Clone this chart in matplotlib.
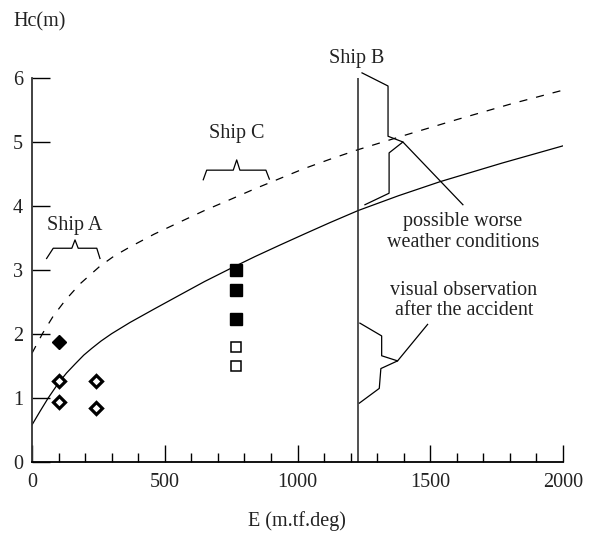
import matplotlib.pyplot as plt
from matplotlib.ticker import MultipleLocator

plt.rcParams['font.family'] = ['Liberation Serif', 'DejaVu Serif']
plt.rcParams['lines.scale_dashes'] = False

# curves
solid_E = [0, 30, 61, 99, 130, 162, 195, 225, 260, 300, 369, 460, 557, 650, 746, 840, 934, 1030, 1122, 1229, 1380, 1537, 1770, 2000]
solid_H = [0.58, 0.79, 1.00, 1.23, 1.39, 1.53, 1.67, 1.775, 1.89, 2.005, 2.18, 2.39, 2.61, 2.82, 3.02, 3.21, 3.39, 3.57, 3.74, 3.93, 4.16, 4.38, 4.67, 4.94]

dashed_E = [0, 40, 80, 126, 180, 256, 310, 369, 460, 557, 650, 746, 840, 934, 1022, 1122, 1228, 1400, 1600, 1800, 2000]
dashed_H = [1.70, 2.01, 2.28, 2.53, 2.78, 3.06, 3.22, 3.36, 3.56, 3.75, 3.93, 4.10, 4.27, 4.43, 4.58, 4.73, 4.88, 5.10, 5.35, 5.59, 5.81]

# ship A (diamonds)
shipA_full_E = [100]
shipA_full_H = [1.88]
shipA_open_E = [100, 100, 240, 240]
shipA_open_H = [1.27, 0.94, 1.26, 0.84]

# ship C (squares)
shipC_full_E = [770, 770, 770]
shipC_full_H = [3.0, 2.69, 2.24]
shipC_open_E = [770, 770]
shipC_open_H = [1.79, 1.50]

# ship B
shipB_E = 1228

# braces and leaders
braceA_E = [55, 80, 150, 162, 174, 244, 256]
braceA_H = [3.18, 3.34, 3.34, 3.47, 3.34, 3.34, 3.18]
braceC_E = [645, 658, 758, 771, 783, 881, 894]
braceC_H = [4.41, 4.56, 4.56, 4.72, 4.56, 4.56, 4.42]
braceB1_E = [1243, 1341, 1341, 1397, 1345, 1345, 1254]
braceB1_H = [6.08, 5.875, 5.09, 5.0, 4.83, 4.20, 4.02]
leader1_E = [1397, 1623]
leader1_H = [5.0, 4.02]
braceB2_E = [1235, 1317, 1317, 1377, 1314, 1308, 1233]
braceB2_H = [2.17, 1.97, 1.66, 1.58, 1.46, 1.15, 0.92]
leader2_E = [1377, 1490]
leader2_H = [1.58, 2.15]

fig = plt.figure(figsize=(5.9, 5.35), dpi=100)
ax = fig.add_axes([32/590, 73/535, 531/590, 384/535])

ax.plot(solid_E, solid_H, color='black', lw=0.9)
ax.plot(dashed_E, dashed_H, color='black', lw=0.9, ls=(0, (5.8, 6.5)))
ax.plot([shipB_E, shipB_E], [0, 6], color='#222222', lw=1.1)

ax.plot(shipA_full_E, shipA_full_H, ls='none', marker='D', ms=7.6, color='black')
ax.plot(shipA_open_E, shipA_open_H, ls='none', marker='D', ms=6.4, mfc='white', mec='black', mew=2.3)
ax.plot(shipC_full_E, shipC_full_H, ls='none', marker='s', ms=8.2, color='black')
ax.plot(shipC_open_E, shipC_open_H, ls='none', marker='s', ms=7.0, mfc='white', mec='black', mew=1.1)

for xs, ys in [(braceA_E, braceA_H), (braceC_E, braceC_H), (braceB1_E, braceB1_H),
               (leader1_E, leader1_H), (braceB2_E, braceB2_H), (leader2_E, leader2_H)]:
    ax.plot(xs, ys, color='black', lw=0.9, clip_on=False)

fs = 14.5
ax.text(162, 3.625, 'Ship A', ha='center', va='baseline', fontsize=fs, color='#222222')
ax.text(771, 5.06, 'Ship C', ha='center', va='baseline', fontsize=fs, color='#222222')
ax.text(1223, 6.23, 'Ship B', ha='center', va='baseline', fontsize=fs, color='#222222')
ax.text(1623, 3.68, 'possible worse', ha='center', va='baseline', fontsize=fs, color='#222222')
ax.text(1623, 3.355, 'weather conditions', ha='center', va='baseline', fontsize=fs, color='#222222')
ax.text(1627, 2.61, 'visual observation', ha='center', va='baseline', fontsize=fs, color='#222222')
ax.text(1627, 2.30, 'after the accident', ha='center', va='baseline', fontsize=fs, color='#222222')

ax.set_xlim(0, 2000)
ax.set_ylim(0, 6)
ax.spines['top'].set_visible(False)
ax.spines['right'].set_visible(False)
ax.spines['left'].set_linewidth(1.3)
ax.spines['bottom'].set_linewidth(1.3)
ax.spines['left'].set_color('#333333')

ax.xaxis.set_major_locator(MultipleLocator(500))
ax.xaxis.set_minor_locator(MultipleLocator(100))
ax.yaxis.set_major_locator(MultipleLocator(1))
ax.tick_params(axis='x', which='major', direction='in', length=12.2, width=1.0, pad=8, labelsize=fs)
ax.tick_params(axis='x', which='minor', direction='in', length=6.5, width=1.0)
ax.tick_params(axis='y', which='major', direction='in', length=13, width=1.0, pad=6.5, labelsize=fs)
for lab in ax.get_xticklabels() + ax.get_yticklabels():
    lab.set_color('#222222')

fig.text(297/590, 1 - 526/535, 'E (m.tf.deg)', ha='center', va='baseline', fontsize=fs, color='#222222')
fig.text(13/590, 1 - 26.7/535, 'Hc(m)', ha='left', va='baseline', fontsize=fs, color='#222222')

plt.savefig('out.png', dpi=100)
